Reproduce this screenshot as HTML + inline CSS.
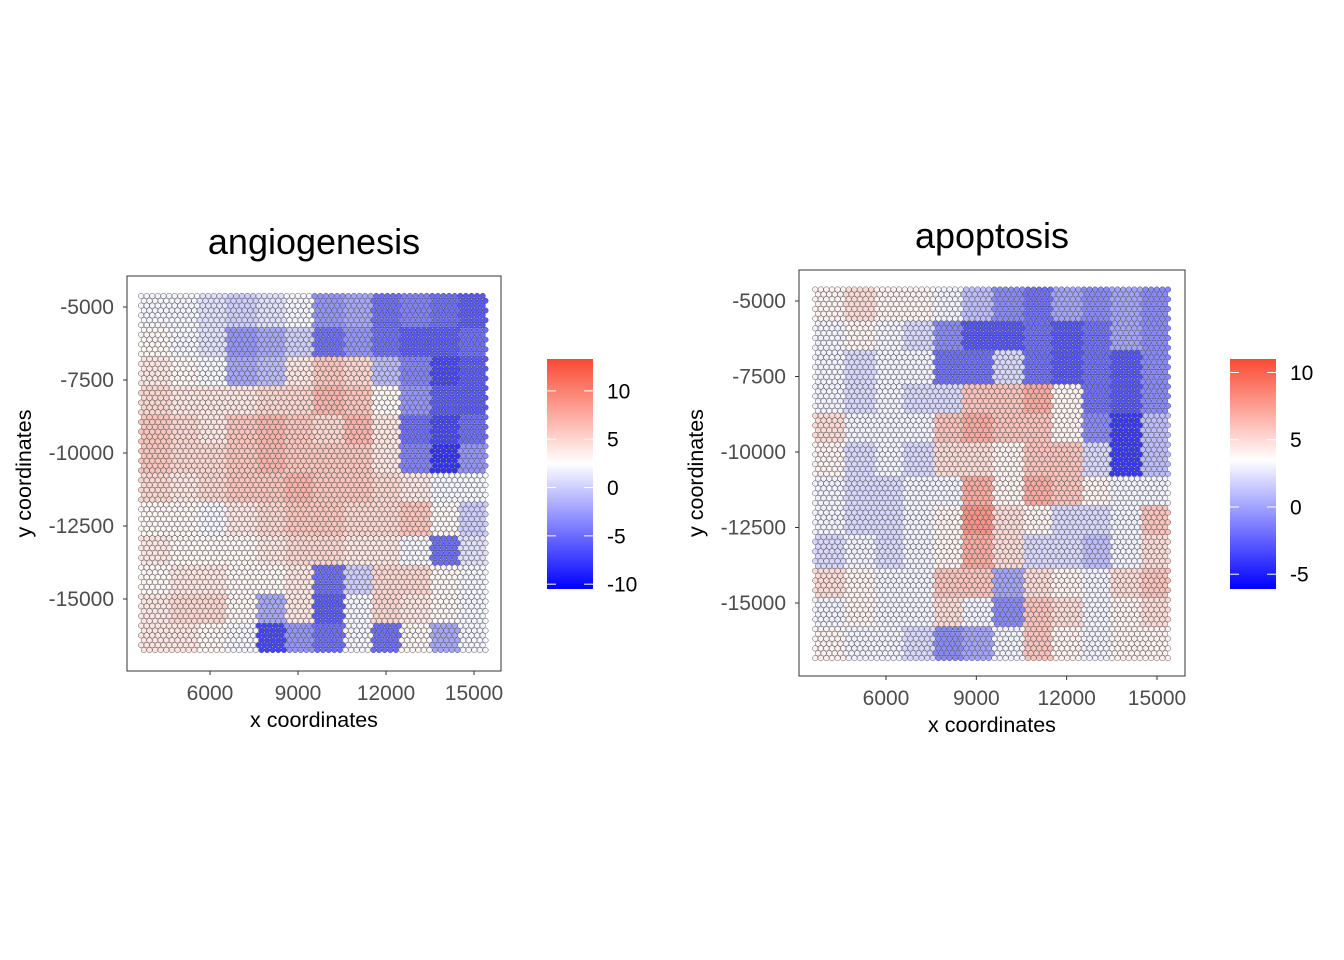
<!DOCTYPE html>
<html><head><meta charset="utf-8"><style>
body{margin:0;background:#fff;}
svg{display:block;font-family:"Liberation Sans",Arial,sans-serif;}
</style></head><body>
<svg id="chart" width="1344" height="960">
</svg>
<script>
// ---- data (coarse regional score values) ----
const angioGrid = [
 [2,2,1,0,1,2,-3,-2,-5,-4,-5,-6],
 [3,2,1,-3,-2,0,-5,-3,-5,-6,-6,-5],
 [4,3,2,-2,-1,4,6,5,-1,-4,-7,-6],
 [5,4,4,4,5,5,7,6,3,-3,-6,-6],
 [6,5,4,6,7,6,5,7,4,-5,-7,-5],
 [6,5,5,6,7,6,6,6,4,-4,-8,-3],
 [5,4,5,6,6,7,6,6,5,4,2,2],
 [3,3,2,4,5,6,6,5,5,6,3,0],
 [4,3,3,3,4,5,5,4,4,2,-5,1],
 [3,4,4,3,3,4,-5,0,5,5,3,2],
 [4,5,5,3,-2,4,-6,2,5,4,3,2],
 [4,4,3,2,-7,-3,-5,2,-5,3,-2,2]
];
const apopGrid = [
 [4,5,4,4,3,1,-1,-2,0,-1,0,-1],
 [3,4,3,2,-1,-3,-3,-2,-3,-2,0,-1],
 [3,2,3,3,-2,-2,2,-2,-3,-2,-3,-1],
 [3,2,3,2,2,6,6,7,4,-2,-3,-1],
 [5,3,3,3,6,7,6,6,4,-1,-4,1],
 [4,2,3,2,5,5,4,6,6,2,-4,1],
 [3,2,2,3,3,7,4,7,6,4,3,3],
 [3,2,2,3,4,8,5,4,2,2,3,6],
 [2,3,2,3,4,7,5,2,2,1,3,5],
 [5,4,3,3,6,6,0,5,4,3,5,6],
 [3,4,3,3,5,3,-1,6,5,3,4,5],
 [4,3,3,2,-1,0,3,6,4,3,4,4]
];
const xTicks = [6000,9000,12000,15000];
const yTicks = [-5000,-7500,-10000,-12500,-15000];
const angioLegendTicks = [10,5,0,-5,-10];
const apopLegendTicks = [10,5,0,-5];
const spotXRange = [3650,15450];
const spotYRange = [-4620,-16860];

const NS="http://www.w3.org/2000/svg";
const svg=document.getElementById('chart');
function mk(tag,attrs,parent){const e=document.createElementNS(NS,tag);for(const k in attrs)e.setAttribute(k,attrs[k]);(parent||svg).appendChild(e);return e;}
function txt(s,attrs,parent){const e=mk('text',attrs,parent);e.textContent=s;return e;}

function colorFor(v,lo,mid,hi){
  let r,g,b;
  if(v>=mid){const t=Math.min(1,(v-mid)/(hi-mid));r=255+(249-255)*t;g=255+(74-255)*t;b=255+(51-255)*t;}
  else{const t=Math.min(1,(mid-v)/(mid-lo));r=255*(1-t);g=255*(1-t);b=255;}
  return `rgb(${r|0},${g|0},${b|0})`;
}

function panel(cfg){
  const g=mk('g',{},svg);
  
  
  const sx=v=>cfg.px0+(v-6000)*(cfg.px1-cfg.px0)/9000;
  const sy=v=>cfg.py0+(v-(-5000))*(cfg.py1-cfg.py0)/(-10000);
  const box=mk('rect',{x:cfg.bx,y:cfg.by,width:cfg.bw,height:cfg.bh,fill:'#fff',stroke:'#333','stroke-width':1},g);
  
  
  const spots=mk('g',{},g);
  
  
  const x0=sx(spotXRange[0]),x1=sx(spotXRange[1]),y0=sy(spotYRange[0]),y1=sy(spotYRange[1]);
  const dx=5.6,dy=4.85;
  const grid=cfg.grid,nr=grid.length,nc=grid[0].length;
  let row=0;
  for(let y=y0;y<=y1+0.1;y+=dy,row++){
    const off=(row%2)?dx/2:0;
    for(let x=x0+off;x<=x1+0.1;x+=dx){
      const ci=Math.min(nc-1,Math.max(0,Math.floor((x-x0)/(x1-x0+0.01)*nc)));
      const ri=Math.min(nr-1,Math.max(0,Math.floor((y-y0)/(y1-y0+0.01)*nr)));
      const v=grid[ri][ci];
      const c=mk('circle',{cx:x.toFixed(1),cy:y.toFixed(1),r:2.75,fill:colorFor(v,cfg.lo,cfg.mid,cfg.hi),stroke:'#333','stroke-width':0.4},spots);
      
      
    }
  }
  xTicks.forEach(t=>{
    const x=sx(t);
    mk('line',{x1:x,x2:x,y1:cfg.by+cfg.bh,y2:cfg.by+cfg.bh+4,stroke:'#333'},g);
    const l=txt(t,{x:x,y:cfg.by+cfg.bh+29,'text-anchor':'middle','font-size':21,fill:'#4d4d4d'},g);
    
    
  });
  yTicks.forEach(t=>{
    const y=sy(t);
    mk('line',{x1:cfg.bx-4,x2:cfg.bx,y1:y,y2:y,stroke:'#333'},g);
    const l=txt(t,{x:cfg.bx-13,y:y+7,'text-anchor':'end','font-size':21,fill:'#4d4d4d'},g);
    
    
  });
  const t=txt(cfg.title,{x:cfg.bx+cfg.bw/2,y:cfg.by-22,'text-anchor':'middle','font-size':36,fill:'#000'},g);
  
  
  const xl=txt('x coordinates',{x:cfg.bx+cfg.bw/2,y:cfg.by+cfg.bh+56,'text-anchor':'middle','font-size':21.5,fill:'#000'},g);
  
  
  const yx=cfg.bx-96,yy=cfg.by+cfg.bh/2;
  const yl=txt('y coordinates',{x:yx,y:yy,'text-anchor':'middle','font-size':21.5,fill:'#000',transform:`rotate(-90 ${yx} ${yy})`},g);
  
  
  const lg=mk('g',{},g);
  
  
  const gid='grad-'+cfg.name;
  const defs=mk('defs',{},lg);
  const gr=mk('linearGradient',{id:gid,x1:0,y1:1,x2:0,y2:0},defs);
  const midOff=(cfg.mid-cfg.lo)/(cfg.hi-cfg.lo);
  mk('stop',{offset:0,'stop-color':'#0000ff'},gr);
  mk('stop',{offset:midOff,'stop-color':'#ffffff'},gr);
  mk('stop',{offset:1,'stop-color':'#f94a33'},gr);
  mk('rect',{x:cfg.lx,y:359,width:46,height:230,fill:`url(#${gid})`},lg);
  const ly=v=>589-(v-cfg.lo)/(cfg.hi-cfg.lo)*230;
  cfg.ticks.forEach(v=>{
    const y=ly(v);
    mk('line',{x1:cfg.lx,x2:cfg.lx+9,y1:y,y2:y,stroke:'#fff','stroke-width':1},lg);
    mk('line',{x1:cfg.lx+37,x2:cfg.lx+46,y1:y,y2:y,stroke:'#fff','stroke-width':1},lg);
    const l=txt(v,{x:cfg.lx+60,y:y+7.5,'font-size':21,fill:'#000'},lg);
    
    
  });
}

panel({name:'angiogenesis',title:'angiogenesis',grid:angioGrid,bx:127,by:276,bw:374,bh:395,
  px0:210,px1:474,py0:307,py1:599,lo:-10.5,mid:2.5,hi:13.3,lx:547,ticks:angioLegendTicks});
panel({name:'apoptosis',title:'apoptosis',grid:apopGrid,bx:799,by:270,bw:386,bh:406,
  px0:886,px1:1157,py0:301,py1:603,lo:-6.1,mid:3.5,hi:11.0,lx:1230,ticks:apopLegendTicks});
</script>
</body></html>
